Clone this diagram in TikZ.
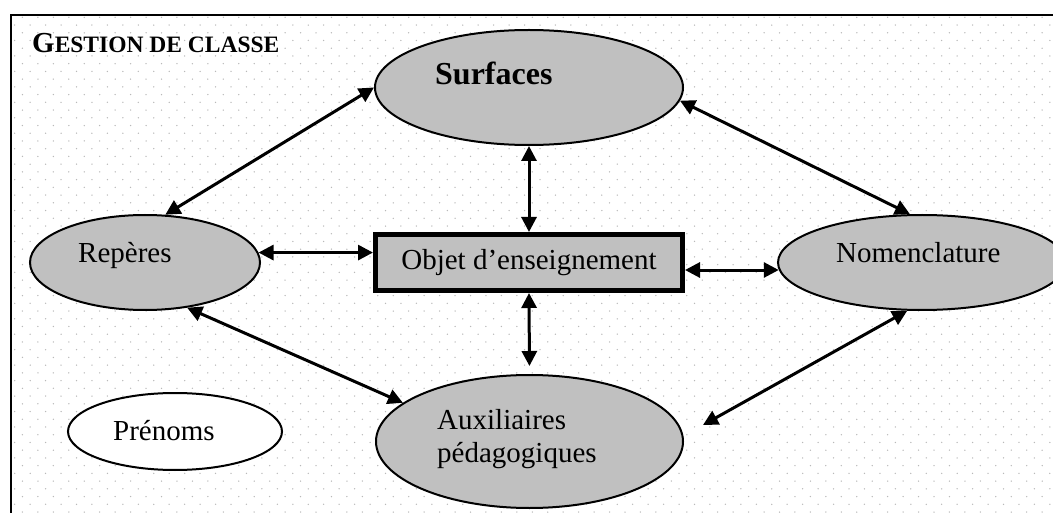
\documentclass[tikz,border=0pt]{standalone}
\usepackage{fontspec}
\setmainfont{Liberation Serif}
\usetikzlibrary{arrows.meta,shapes.geometric}
\definecolor{topicgray}{RGB}{192,192,192}
\definecolor{dotgray}{RGB}{185,185,185}
\tikzstyle{Topic}=[shape=ellipse, inner sep=0pt, fill=topicgray, line width=2pt, draw=black]
\tikzstyle{Aside}=[shape=ellipse, inner sep=0pt, fill=white, line width=2pt, draw=black]
\tikzstyle{Central}=[shape=rectangle, inner sep=0pt, fill=topicgray, line width=5pt, draw=black, minimum width=307pt, minimum height=56pt, font=\fontsize{29}{33}\selectfont]
\tikzstyle{Label}=[inner sep=0pt, anchor=base west, font=\fontsize{29}{33}\selectfont]
\tikzstyle{arrow}=[line width=3pt, {Triangle[length=15pt,width=15pt]}-{Triangle[length=15pt,width=15pt]}]
\pgfdeclarelayer{nodelayer}
\pgfdeclarelayer{edgelayer}
\pgfsetlayers{main,nodelayer,edgelayer}

\begin{document}
\begin{tikzpicture}[x=1pt, y=-1pt]
	\useasboundingbox (0,0) rectangle (1053,513);
	% dotted grid and frame
	\foreach \j in {0,...,65} {
		\pgfmathsetmacro{\rowx}{mod(\j,2) == 0 ? 22.45 : 14.7}
		\fill [dotgray] \foreach \k in {0,...,67} {(\rowx+15.45*\k, 17.3+7.73*\j) circle (0.75pt)};
	}
	\draw [line width=2pt] (11,15) rectangle (1070,530);
	\begin{pgfonlayer}{nodelayer}
		\node [style=Topic, minimum width=308pt, minimum height=115pt] (surfaces) at (529, 87.5) {};
		\node [style=Topic, minimum width=230pt, minimum height=95pt] (reperes) at (145, 262.5) {};
		\node [style=Topic, minimum width=288pt, minimum height=95pt] (nomenclature) at (922, 262.5) {};
		\node [style=Topic, minimum width=307pt, minimum height=133pt] (auxiliaires) at (529.5, 441.5) {};
		\node [style=Aside, minimum width=214pt, minimum height=77pt] (prenoms) at (175, 431.5) {};
		\node [style=Central] (objet) at (529, 262.5) {Objet d’enseignement};

		% texts
		\node [style=Label, font=\fontsize{32}{36}\selectfont\bfseries] (surfaces-text) at (435, 85) {Surfaces};
		\node [style=Label] (reperes-text) at (78, 263) {Repères};
		\node [style=Label] (nomenclature-text) at (836, 263) {Nomenclature};
		\node [style=Label] (prenoms-text) at (113, 440) {Prénoms};
		\node [style=Label] (auxiliaires-text) at (437, 429) {Auxiliaires};
		\node [style=Label] (pedagogiques-text) at (437, 462) {pédagogiques};
		\node [inner sep=0pt, anchor=base west] (title) at (32, 53) {\bfseries\fontsize{29}{30}\selectfont G\fontsize{23.5}{30}\selectfont ESTION DE CLASSE};
	\end{pgfonlayer}
	\begin{pgfonlayer}{edgelayer}
		\draw [style=arrow] (surfaces.180) to (reperes.67);
		\draw [style=arrow] (surfaces.-5) to (nomenclature.104);
		\draw [style=arrow] (surfaces.south) to (objet.north);
		\draw [style=arrow] (reperes.5) to (reperes.5 -| objet.west);
		\draw [style=arrow] (objet.east |- nomenclature.183) to (nomenclature.183);
		\draw [style=arrow, shorten >=8pt] (objet.south) to (auxiliaires.north);
		\draw [style=arrow] (reperes.-47) to (auxiliaires.163);

		% free end short of the ellipse
		\coordinate (gap) at (703, 425);
		\draw [style=arrow] (nomenclature.-107) to (gap);
	\end{pgfonlayer}
\end{tikzpicture}
\end{document}
